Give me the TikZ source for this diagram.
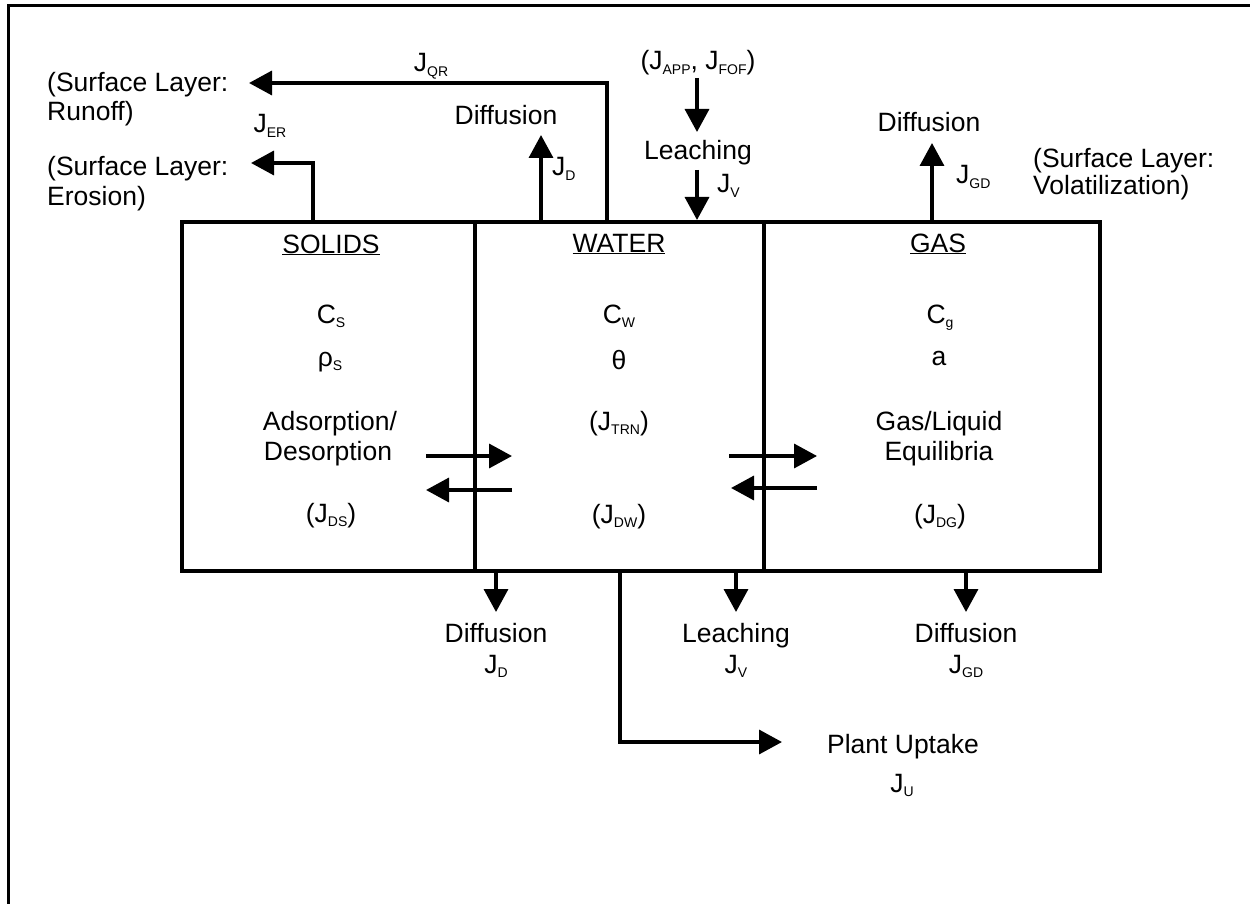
\documentclass[tikz,border=0pt]{standalone}
\usepackage{fontspec}
\setmainfont{Liberation Sans}
\usetikzlibrary{arrows.meta}
\newcommand\lsub[1]{\raisebox{-4.5pt}{\fontsize{14}{14}\selectfont #1}}
\begin{document}
\begin{tikzpicture}[x=1pt,y=-1pt,
  font=\fontsize{26.5}{29}\selectfont,
  boxline/.style={line width=3.5pt, line cap=rect},
  arr/.style={line width=3.5pt, -{Triangle[length=23pt,width=24pt]}},
  txt/.style={inner sep=0pt, anchor=base},
  txtl/.style={inner sep=0pt, anchor=base west}]
\useasboundingbox (0,0) rectangle (1250,904);
% frame (top and left only)
\draw[line width=3pt] (8,904) -- (8,6) -- (1250,6);

% compartments
\node[draw, boxline, minimum width=293pt, minimum height=349pt, inner sep=0pt] (sol) at (328.5,396.5) {};
\node[draw, boxline, minimum width=289pt, minimum height=349pt, inner sep=0pt] (wat) at (619.5,396.5) {};
\node[draw, boxline, minimum width=336pt, minimum height=349pt, inner sep=0pt] (gas) at (932,396.5) {};

% solids texts
\node[txt] (solT) at (331,253) {\underline{SOLIDS}};
\node[txt] (cs) at (331,323) {C\lsub{S}};
\node[txt] (rhos) at (330,366) {ρ\lsub{S}};
\node[txt] (ads1) at (330,430) {Adsorption/};
\node[txt] (ads2) at (328,460) {Desorption};
\node[txt] (jds) at (331,522) {(J\lsub{DS})};

% water texts
\node[txt] (watT) at (619,252) {\underline{WATER}};
\node[txt] (cw) at (619,323) {C\lsub{W}};
\node[txt] (theta) at (619,369) {θ};
\node[txt] (jtrn) at (619,430) {(J\lsub{TRN})};
\node[txt] (jdw) at (619,523) {(J\lsub{DW})};

% gas texts
\node[txt] (gasT) at (938,252) {\underline{GAS}};
\node[txt] (cg) at (940,323) {C\lsub{g}};
\node[txt] (aa) at (939,365) {a};
\node[txt] (gl1) at (939,430) {Gas/Liquid};
\node[txt] (gl2) at (939,460) {Equilibria};
\node[txt] (jdg) at (940,523) {(J\lsub{DG})};

% top-left labels
\node[txtl] (run1) at (47,92) {(Surface Layer:};
\node[txtl] (run2) at (47,121) {Runoff)};
\node[txtl] (ero1) at (47,176) {(Surface Layer:};
\node[txtl] (ero2) at (47,206) {Erosion)};
\node[txt] (jqr) at (431,72) {J\lsub{QR}};
\node[txt] (jer) at (270,133) {J\lsub{ER}};

% top water labels
\node[txt] (difw) at (506,125) {Diffusion};
\node[txtl] (jdtop) at (552,176) {J\lsub{D}};
\node[txt] (japp) at (698,70) {(J\lsub{APP}, J\lsub{FOF})};
\node[txt] (leachT) at (698,160) {Leaching};
\node[txtl] (jvtop) at (717,193) {J\lsub{V}};

% top gas labels
\node[txt] (difg) at (929,132) {Diffusion};
\node[txtl] (jgdtop) at (956,184) {J\lsub{GD}};
\node[txtl] (vol1) at (1033,168) {(Surface Layer:};
\node[txtl] (vol2) at (1033,195) {Volatilization)};

% bottom labels
\node[txt] (difb1) at (496,642) {Diffusion};
\node[txt] (jdb) at (496,673) {J\lsub{D}};
\node[txt] (leachB) at (736,642) {Leaching};
\node[txt] (jvb) at (736,673) {J\lsub{V}};
\node[txt] (difb2) at (966,642) {Diffusion};
\node[txt] (jgdb) at (966,673) {J\lsub{GD}};
\node[txt] (plant) at (903,753) {Plant Uptake};
\node[txt] (ju) at (902,792) {J\lsub{U}};

% connector end points
\coordinate (erS) at (313,222);  \coordinate (erE) at (251,163);
\coordinate (qrS) at (607,222);  \coordinate (qrE) at (249,83);
\coordinate (dwS) at (541,222);  \coordinate (dwE) at (541,135);
\coordinate (apS) at (697,78);   \coordinate (apE) at (697,132);
\coordinate (lvS) at (697,170);  \coordinate (lvE) at (697,220);
\coordinate (dgS) at (932,222);  \coordinate (dgE) at (932,143);
\coordinate (sw1S) at (426,456); \coordinate (sw1E) at (512,456);
\coordinate (sw2S) at (512,490); \coordinate (sw2E) at (426,490);
\coordinate (wg1S) at (729,456); \coordinate (wg1E) at (817,456);
\coordinate (wg2S) at (817,488); \coordinate (wg2E) at (731,488);
\coordinate (bdS) at (496,571);  \coordinate (bdE) at (496,612);
\coordinate (blS) at (736,571);  \coordinate (blE) at (736,612);
\coordinate (bgS) at (966,571);  \coordinate (bgE) at (966,612);
\coordinate (puS) at (620,571);  \coordinate (puE) at (782,742);

% connectors
\draw[arr] (erS) |- (erE);
\draw[arr] (qrS) |- (qrE);
\draw[arr] (dwS) -- (dwE);
\draw[arr] (apS) -- (apE);
\draw[arr] (lvS) -- (lvE);
\draw[arr] (dgS) -- (dgE);
\draw[arr] (sw1S) -- (sw1E);
\draw[arr] (sw2S) -- (sw2E);
\draw[arr] (wg1S) -- (wg1E);
\draw[arr] (wg2S) -- (wg2E);
\draw[arr] (bdS) -- (bdE);
\draw[arr] (blS) -- (blE);
\draw[arr] (bgS) -- (bgE);
\draw[arr] (puS) |- (puE);
\end{tikzpicture}
\end{document}
